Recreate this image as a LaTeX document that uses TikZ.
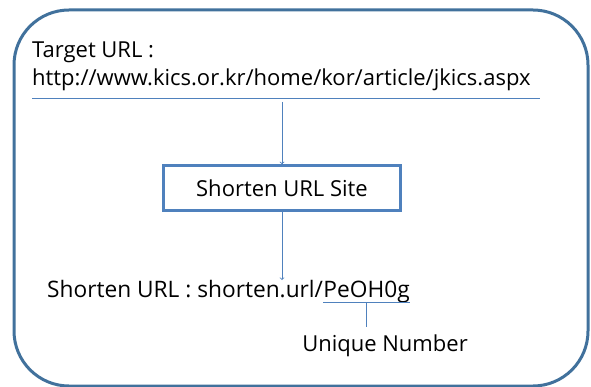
\documentclass[tikz,border=0pt]{standalone}
\usepackage{fontspec}
\setmainfont{Open Sans}
\definecolor{cadre}{HTML}{41719C}
\definecolor{trait}{HTML}{4F81BD}
\begin{document}
\begin{tikzpicture}[x=1pt,y=-1pt]
		\tikzstyle{texte} = [inner sep=0pt,anchor=west,font=\fontsize{22}{26}\selectfont]
		\tikzstyle{site} = [draw=trait,line width=2.5pt,minimum width=237pt,minimum height=45pt,font=\fontsize{22}{26}\selectfont]
		\tikzstyle{fleche} = [->,>=to,draw=trait,line width=0.8pt]
		\tikzstyle{trait} = [draw=trait,line width=0.8pt]
		
		\useasboundingbox (0,0) rectangle (591,387);
		\draw[cadre,line width=3pt,rounded corners=55pt] (14,10) rectangle (588,386);
		
		\node[texte](Cible) at (32,52) {Target URL :};
		\node[texte](Adresse) at (32,80) {http://www.kics.or.kr/home/kor/article/jkics.aspx};
		\coordinate (TraitG) at (32,98);
		\coordinate (TraitD) at (540,98);
		\coordinate (Depart) at (282,102);
		
		\node[site](Site) at (282,188) {Shorten URL Site};
		
		\node[texte,font=\fontsize{22.7}{26}\selectfont](Court) at (47,289) {Shorten URL : shorten.url/};
		\node[texte,font=\fontsize{22.7}{26}\selectfont,anchor=base west](Code) at (Court.base east) {PeOH0g};
		\node[texte,anchor=center](Unique) at (385,346) {Unique Number};
		
		\draw[trait] (TraitG) -- (TraitD);
		\draw[fleche] (Depart) -- (Site);
		\draw[fleche] (Site) -- (Court.north -| Site);
		\draw[trait] ([yshift=-5pt]Code.base west) -- ([yshift=-5pt]Code.base east);
		\draw[trait] ([yshift=-5pt]Code.base) -- ([yshift=8pt]Unique.north -| Code);
		\end{tikzpicture}
\end{document}
